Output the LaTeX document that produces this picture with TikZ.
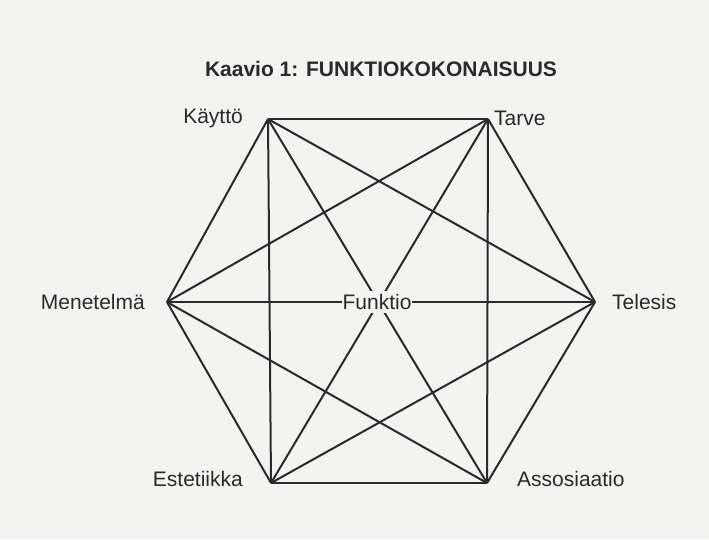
\documentclass[tikz,border=0pt]{standalone}
\usepackage{fontspec}
\setmainfont{Liberation Sans}
\usetikzlibrary{positioning}
\definecolor{paper}{HTML}{F3F3F1}
\definecolor{ink}{HTML}{2A2A2A}

\begin{document}
\begin{tikzpicture}[
    x=1pt, y=-1pt,
    every node/.style={font=\fontsize{21}{23}\selectfont, text=ink, inner sep=0pt},
    edge/.style={draw=ink, line width=2pt, line join=round},
    centre/.style={fill=paper, inner xsep=1pt, inner ysep=3pt},
]
  % page
  \fill[paper] (0,0) rectangle (709,539);
  \useasboundingbox (0,0) rectangle (709,539);

  % title
  \node[font=\bfseries\fontsize{21}{24}\selectfont] (title) at (381,69) {Kaavio 1: FUNKTIOKOKONAISUUS};

  % corner points
  \coordinate (k) at (268,119);
  \coordinate (t) at (488,119);
  \coordinate (m) at (167,302);
  \coordinate (s) at (595,302);
  \coordinate (e) at (271,483);
  \coordinate (a) at (487,483);

  % every point joined to every other
  \foreach \p/\q in {k/t,k/m,k/s,k/e,k/a,t/m,t/s,t/e,t/a,m/s,m/e,m/a,s/e,s/a,e/a}
    \draw[edge] (\p) -- (\q);

  % labels
  \node[left=25pt of k, yshift=1pt] (kl) {Käyttö};
  \node[right=6pt of t, yshift=1pt] (tl) {Tarve};
  \node[left=22pt of m] (ml) {Menetelmä};
  \node[right=17pt of s] (sl) {Telesis};
  \node[left=28pt of e, yshift=4pt] (el) {Estetiikka};
  \node[right=30pt of a, yshift=4pt] (al) {Assosiaatio};
  \node[centre] (f) at (377,302) {Funktio};
\end{tikzpicture}
\end{document}
